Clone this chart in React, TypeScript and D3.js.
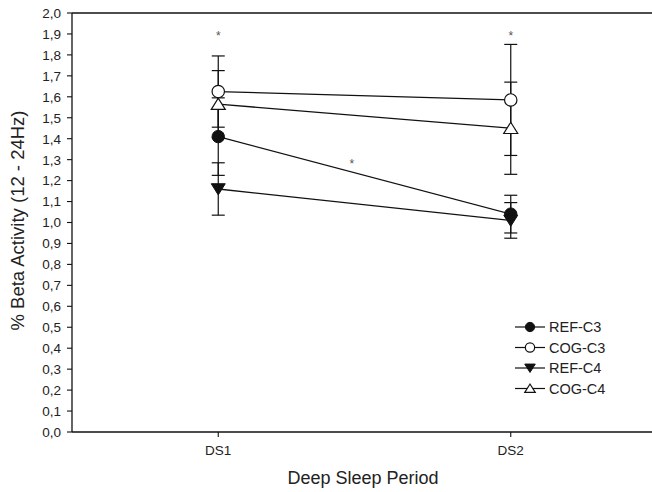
import React from "react";
import * as d3 from "d3";

const categories = ["DS1", "DS2"];
const refC3 = [1.41, 1.04];
const refC3Err = [0.185, 0.09];
const cogC3 = [1.625, 1.585];
const cogC3Err = [0.17, 0.265];
const refC4 = [1.16, 1.01];
const refC4Err = [0.125, 0.085];
const cogC4 = [1.565, 1.45];
const cogC4Err = [0.16, 0.22];
const yTicks = d3.range(0, 21).map((i) => i / 10);
const starValue = 1.91;
const midStar = { pos: 0.457, value: 1.275 };

type Series = { name: string; values: number[]; errs: number[]; symbol: string };
const seriesList: Series[] = [
  { name: "REF-C3", values: refC3, errs: refC3Err, symbol: "filledCircle" },
  { name: "COG-C3", values: cogC3, errs: cogC3Err, symbol: "openCircle" },
  { name: "REF-C4", values: refC4, errs: refC4Err, symbol: "filledDown" },
  { name: "COG-C4", values: cogC4, errs: cogC4Err, symbol: "openUp" },
];

const W = 652;
const H = 492;
const left = 72;
const right = 657;
const top = 13;
const bottom = 432;
const FONT = "'Liberation Sans', Arial, Helvetica, sans-serif";

function Marker({ x, y, symbol, scale = 1 }: { x: number; y: number; symbol: string; scale?: number }) {
  const r = 6.2 * scale;
  if (symbol === "filledCircle") return <circle cx={x} cy={y} r={r} fill="#111" stroke="#111" strokeWidth={1} />;
  if (symbol === "openCircle") return <circle cx={x} cy={y} r={r} fill="#fff" stroke="#111" strokeWidth={1.2} />;
  const s = 7 * scale;
  if (symbol === "filledDown")
    return <path d={`M${x - s},${y - s * 0.75}L${x + s},${y - s * 0.75}L${x},${y + s * 0.85}Z`} fill="#111" stroke="#111" strokeWidth={1} />;
  return <path d={`M${x - s},${y + s * 0.75}L${x + s},${y + s * 0.75}L${x},${y - s * 0.85}Z`} fill="#fff" stroke="#111" strokeWidth={1.2} />;
}

export default function App() {
  const x = d3.scalePoint<string>().domain(categories).range([left, right]).padding(0.5);
  const y = d3.scaleLinear().domain([0, 2]).range([bottom, top]);
  const line = d3
    .line<number>()
    .x((_, i) => x(categories[i]) as number)
    .y((v) => y(v));
  const cap = 6.5;
  const legendX = 515;
  const legendY0 = 327;
  const legendDy = 20.5;

  return (
    <svg width={W} height={H} style={{ position: "absolute", left: 0, top: 0, background: "#fff" }} fontFamily={FONT}>
      {/* axes */}
      <line x1={left} x2={left} y1={top} y2={bottom} stroke="#111" strokeWidth={1.3} />
      <line x1={left} x2={right} y1={bottom} y2={bottom} stroke="#111" strokeWidth={1.3} />
      <line x1={left} x2={right} y1={top} y2={top} stroke="#111" strokeWidth={1.3} />
      {yTicks.map((t) => (
        <g key={t}>
          <line x1={left - 5} x2={left} y1={y(t)} y2={y(t)} stroke="#111" strokeWidth={1.1} />
          <text x={left - 11} y={y(t)} dy="0.36em" textAnchor="end" fontSize={13.5} fill="#222">
            {t.toFixed(1).replace(".", ",")}
          </text>
        </g>
      ))}
      {categories.map((c) => (
        <g key={c}>
          <line x1={x(c)} x2={x(c)} y1={bottom} y2={bottom + 5} stroke="#111" strokeWidth={1.1} />
          <text x={x(c) as number} y={bottom + 23} textAnchor="middle" fontSize={13.5} fill="#222">
            {c}
          </text>
        </g>
      ))}
      <text x={363} y={484} textAnchor="middle" fontSize={18} fill="#222">
        Deep Sleep Period
      </text>
      <text
        transform={`translate(24,${(top + bottom) / 2 - 2}) rotate(-90)`}
        textAnchor="middle"
        fontSize={18.5}
        fill="#222"
      >
        % Beta Activity (12 - 24Hz)
      </text>

      {/* error bars */}
      {seriesList.map((s) =>
        s.values.map((v, i) => {
          const cx = x(categories[i]) as number;
          const hi = y(v + s.errs[i]);
          const lo = y(v - s.errs[i]);
          return (
            <g key={s.name + i} stroke="#111" strokeWidth={1.2}>
              <line x1={cx} x2={cx} y1={hi} y2={lo} />
              <line x1={cx - cap} x2={cx + cap} y1={hi} y2={hi} />
              <line x1={cx - cap} x2={cx + cap} y1={lo} y2={lo} />
            </g>
          );
        })
      )}
      {/* lines */}
      {seriesList.map((s) => (
        <path key={s.name} d={line(s.values) as string} fill="none" stroke="#111" strokeWidth={1.3} />
      ))}
      {/* markers */}
      {seriesList.map((s) =>
        s.values.map((v, i) => <Marker key={s.name + "m" + i} x={x(categories[i]) as number} y={y(v)} symbol={s.symbol} />)
      )}
      {/* significance */}
      {categories.map((c) => (
        <text key={"st" + c} x={x(c) as number} y={y(starValue)} dy="0.7em" textAnchor="middle" fontSize={12} fill="#555">
          *
        </text>
      ))}
      <text
        x={(x(categories[0]) as number) + midStar.pos * ((x(categories[1]) as number) - (x(categories[0]) as number))}
        y={y(midStar.value)}
        dy="0.3em"
        textAnchor="middle"
        fontSize={12}
        fill="#555"
      >
        *
      </text>

      {/* legend */}
      {seriesList.map((s, i) => {
        const ly = legendY0 + i * legendDy;
        return (
          <g key={"lg" + s.name}>
            <line x1={legendX} x2={legendX + 30} y1={ly} y2={ly} stroke="#111" strokeWidth={1.2} />
            <Marker x={legendX + 15} y={ly} symbol={s.symbol} scale={0.75} />
            <text x={legendX + 34} y={ly} dy="0.36em" fontSize={14.5} fill="#222">
              {s.name}
            </text>
          </g>
        );
      })}
    </svg>
  );
}
